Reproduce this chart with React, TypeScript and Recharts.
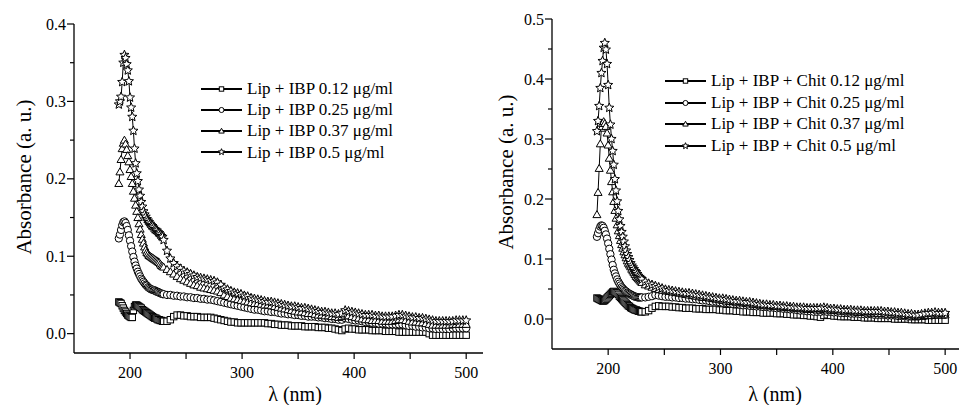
import React from 'react';
import { LineChart, Line, XAxis, YAxis } from 'recharts';

const FONT = "'Liberation Serif', 'DejaVu Serif', 'Times New Roman', Times, serif";

// wavelength grid (nm): 1 nm steps on the peak, 3 nm on the tail
const wavelength = [
  190, 191, 192, 193, 194, 195, 196, 197, 198, 199,
  200, 201, 202, 203, 204, 205, 206, 207, 208, 209,
  210, 211, 212, 213, 214, 215, 216, 217, 218, 219,
  220, 221, 222, 223, 224, 225, 226, 227, 228, 229,
  230,
  233, 236, 239, 242, 245, 248, 251, 254, 257, 260,
  263, 266, 269, 272, 275, 278, 281, 284, 287, 290,
  293, 296, 299, 302, 305, 308, 311, 314, 317, 320,
  323, 326, 329, 332, 335, 338, 341, 344, 347, 350,
  353, 356, 359, 362, 365, 368, 371, 374, 377, 380,
  383, 386, 389, 392, 395, 398, 401, 404, 407, 410,
  413, 416, 419, 422, 425, 428, 431, 434, 437, 440,
  443, 446, 449, 452, 455, 458, 461, 464, 467, 470,
  473, 476, 479, 482, 485, 488, 491, 494, 497, 500,
];

// Lip + IBP
const lipSquare = [
  0.041, 0.040, 0.039, 0.036, 0.033, 0.030, 0.028, 0.026, 0.024, 0.023,
  0.022, 0.021, 0.021, 0.030, 0.035, 0.037, 0.037, 0.036, 0.035, 0.034,
  0.033, 0.031, 0.030, 0.029, 0.028, 0.027, 0.026, 0.025, 0.024, 0.023,
  0.022, 0.021, 0.020, 0.020, 0.019, 0.018, 0.018, 0.017, 0.017, 0.016,
  0.016,
  0.016, 0.018, 0.022, 0.024, 0.024, 0.023, 0.023, 0.022, 0.022, 0.022,
  0.021, 0.021, 0.021, 0.021, 0.020, 0.019, 0.018, 0.017, 0.016, 0.015,
  0.015, 0.014, 0.014, 0.014, 0.014, 0.014, 0.014, 0.014, 0.014, 0.014,
  0.013, 0.013, 0.012, 0.012, 0.011, 0.011, 0.011, 0.010, 0.010, 0.010,
  0.010, 0.009, 0.009, 0.009, 0.009, 0.008, 0.008, 0.008, 0.007, 0.007,
  0.006, 0.005, 0.004, 0.006, 0.007, 0.006, 0.006, 0.005, 0.005, 0.005,
  0.005, 0.004, 0.004, 0.004, 0.004, 0.003, 0.003, 0.003, 0.003, 0.002,
  0.002, 0.002, 0.002, 0.002, 0.002, 0.002, 0.002, 0.002, 0.000, -0.002,
  -0.002, -0.002, -0.002, -0.002, -0.002, -0.002, -0.002, -0.002, -0.002, -0.002,
];
const lipCircle = [
  0.123, 0.128, 0.134, 0.140, 0.144, 0.145, 0.143, 0.139, 0.134, 0.127,
  0.120, 0.113, 0.106, 0.099, 0.093, 0.088, 0.084, 0.080, 0.077, 0.074,
  0.071, 0.069, 0.067, 0.065, 0.063, 0.062, 0.060, 0.059, 0.058, 0.057,
  0.057, 0.056, 0.056, 0.055, 0.054, 0.054, 0.053, 0.052, 0.052, 0.051,
  0.051,
  0.050, 0.050, 0.049, 0.049, 0.048, 0.048, 0.047, 0.047, 0.046, 0.046,
  0.045, 0.045, 0.044, 0.044, 0.043, 0.042, 0.041, 0.040, 0.039, 0.038,
  0.037, 0.036, 0.035, 0.034, 0.033, 0.032, 0.031, 0.031, 0.030, 0.029,
  0.029, 0.028, 0.028, 0.027, 0.026, 0.026, 0.025, 0.025, 0.024, 0.024,
  0.023, 0.023, 0.022, 0.022, 0.022, 0.021, 0.021, 0.020, 0.020, 0.019,
  0.019, 0.018, 0.018, 0.020, 0.019, 0.018, 0.017, 0.017, 0.016, 0.015,
  0.015, 0.014, 0.014, 0.013, 0.013, 0.013, 0.012, 0.012, 0.012, 0.012,
  0.012, 0.011, 0.010, 0.010, 0.009, 0.009, 0.008, 0.008, 0.007, 0.007,
  0.006, 0.006, 0.006, 0.006, 0.006, 0.007, 0.007, 0.007, 0.007, 0.007,
];
const lipTriangle = [
  0.194, 0.209, 0.225, 0.239, 0.246, 0.250, 0.245, 0.238, 0.230, 0.222,
  0.212, 0.203, 0.194, 0.184, 0.175, 0.166, 0.158, 0.150, 0.142, 0.135,
  0.128, 0.122, 0.117, 0.112, 0.108, 0.105, 0.103, 0.101, 0.100, 0.099,
  0.098, 0.097, 0.096, 0.095, 0.094, 0.093, 0.092, 0.090, 0.088, 0.087,
  0.086,
  0.083, 0.080, 0.077, 0.074, 0.071, 0.069, 0.067, 0.065, 0.063, 0.062,
  0.060, 0.059, 0.058, 0.057, 0.056, 0.055, 0.053, 0.050, 0.048, 0.046,
  0.045, 0.044, 0.043, 0.042, 0.041, 0.040, 0.039, 0.039, 0.038, 0.037,
  0.037, 0.036, 0.035, 0.034, 0.033, 0.032, 0.031, 0.030, 0.029, 0.028,
  0.028, 0.027, 0.026, 0.026, 0.025, 0.024, 0.024, 0.023, 0.023, 0.022,
  0.022, 0.021, 0.022, 0.024, 0.023, 0.022, 0.021, 0.020, 0.019, 0.018,
  0.018, 0.017, 0.017, 0.017, 0.016, 0.016, 0.016, 0.016, 0.017, 0.018,
  0.018, 0.017, 0.016, 0.015, 0.015, 0.014, 0.014, 0.013, 0.012, 0.011,
  0.011, 0.011, 0.011, 0.011, 0.011, 0.012, 0.012, 0.012, 0.012, 0.012,
];
const lipStar = [
  0.296, 0.300, 0.306, 0.325, 0.350, 0.360, 0.356, 0.348, 0.340, 0.326,
  0.305, 0.292, 0.280, 0.262, 0.239, 0.220, 0.207, 0.197, 0.186, 0.178,
  0.170, 0.164, 0.158, 0.154, 0.151, 0.148, 0.146, 0.144, 0.142, 0.140,
  0.139, 0.137, 0.135, 0.134, 0.133, 0.131, 0.130, 0.128, 0.126, 0.125,
  0.121,
  0.107, 0.097, 0.091, 0.087, 0.084, 0.081, 0.079, 0.077, 0.075, 0.073,
  0.072, 0.071, 0.070, 0.069, 0.068, 0.066, 0.063, 0.059, 0.057, 0.055,
  0.053, 0.052, 0.051, 0.049, 0.048, 0.046, 0.045, 0.044, 0.043, 0.042,
  0.041, 0.041, 0.040, 0.039, 0.038, 0.037, 0.036, 0.035, 0.035, 0.034,
  0.033, 0.033, 0.032, 0.031, 0.030, 0.029, 0.028, 0.028, 0.027, 0.026,
  0.026, 0.025, 0.026, 0.030, 0.029, 0.028, 0.027, 0.026, 0.025, 0.024,
  0.024, 0.024, 0.023, 0.023, 0.022, 0.022, 0.022, 0.022, 0.023, 0.024,
  0.024, 0.023, 0.022, 0.021, 0.021, 0.020, 0.020, 0.019, 0.018, 0.017,
  0.016, 0.016, 0.016, 0.016, 0.016, 0.016, 0.017, 0.017, 0.017, 0.017,
];

// Lip + IBP + Chit
const chitSquare = [
  0.035, 0.034, 0.033, 0.032, 0.031, 0.030, 0.030, 0.031, 0.033, 0.035,
  0.037, 0.039, 0.041, 0.043, 0.045, 0.046, 0.045, 0.044, 0.043, 0.041,
  0.038, 0.036, 0.034, 0.032, 0.030, 0.028, 0.026, 0.024, 0.022, 0.021,
  0.019, 0.018, 0.017, 0.016, 0.015, 0.015, 0.014, 0.013, 0.013, 0.012,
  0.012,
  0.012, 0.014, 0.018, 0.021, 0.022, 0.021, 0.021, 0.021, 0.020, 0.020,
  0.019, 0.019, 0.018, 0.018, 0.018, 0.017, 0.017, 0.017, 0.016, 0.016,
  0.016, 0.016, 0.015, 0.015, 0.014, 0.014, 0.014, 0.013, 0.013, 0.012,
  0.012, 0.012, 0.011, 0.011, 0.011, 0.010, 0.010, 0.010, 0.010, 0.009,
  0.009, 0.009, 0.008, 0.008, 0.007, 0.007, 0.007, 0.006, 0.006, 0.005,
  0.005, 0.004, 0.003, 0.006, 0.007, 0.006, 0.005, 0.005, 0.004, 0.004,
  0.004, 0.004, 0.003, 0.003, 0.003, 0.002, 0.002, 0.002, 0.002, 0.001,
  0.001, 0.001, 0.001, 0.001, 0.000, 0.000, 0.000, 0.000, 0.000, -0.001,
  -0.001, -0.001, -0.001, -0.001, -0.002, -0.002, -0.002, -0.002, -0.002, -0.002,
];
const chitCircle = [
  0.137, 0.143, 0.149, 0.154, 0.156, 0.155, 0.152, 0.147, 0.141, 0.134,
  0.126, 0.117, 0.108, 0.099, 0.090, 0.082, 0.076, 0.071, 0.066, 0.062,
  0.059, 0.056, 0.053, 0.051, 0.049, 0.047, 0.046, 0.044, 0.043, 0.042,
  0.041, 0.040, 0.039, 0.038, 0.037, 0.037, 0.036, 0.036, 0.036, 0.036,
  0.036,
  0.036, 0.037, 0.038, 0.040, 0.039, 0.038, 0.037, 0.037, 0.036, 0.036,
  0.035, 0.035, 0.034, 0.034, 0.033, 0.033, 0.032, 0.031, 0.031, 0.030,
  0.029, 0.029, 0.028, 0.027, 0.027, 0.026, 0.025, 0.025, 0.024, 0.023,
  0.023, 0.022, 0.022, 0.021, 0.021, 0.020, 0.020, 0.019, 0.019, 0.018,
  0.018, 0.017, 0.017, 0.016, 0.016, 0.015, 0.014, 0.014, 0.013, 0.013,
  0.012, 0.012, 0.012, 0.013, 0.012, 0.012, 0.011, 0.011, 0.010, 0.010,
  0.010, 0.009, 0.009, 0.009, 0.008, 0.008, 0.008, 0.008, 0.007, 0.007,
  0.007, 0.007, 0.006, 0.006, 0.006, 0.005, 0.005, 0.005, 0.004, 0.004,
  0.004, 0.004, 0.005, 0.005, 0.006, 0.006, 0.007, 0.007, 0.007, 0.007,
];
const chitTriangle = [
  0.174, 0.211, 0.251, 0.292, 0.318, 0.326, 0.329, 0.326, 0.321, 0.310,
  0.290, 0.268, 0.248, 0.229, 0.212, 0.196, 0.181, 0.168, 0.157, 0.147,
  0.139, 0.131, 0.124, 0.118, 0.112, 0.107, 0.102, 0.097, 0.093, 0.090,
  0.087, 0.083, 0.080, 0.077, 0.074, 0.071, 0.069, 0.067, 0.065, 0.063,
  0.061,
  0.057, 0.055, 0.053, 0.051, 0.049, 0.048, 0.047, 0.046, 0.045, 0.044,
  0.043, 0.042, 0.041, 0.040, 0.039, 0.038, 0.037, 0.036, 0.036, 0.035,
  0.034, 0.033, 0.032, 0.031, 0.030, 0.029, 0.029, 0.028, 0.027, 0.027,
  0.026, 0.025, 0.025, 0.024, 0.023, 0.023, 0.022, 0.022, 0.021, 0.021,
  0.020, 0.020, 0.019, 0.019, 0.018, 0.018, 0.017, 0.017, 0.016, 0.016,
  0.016, 0.015, 0.015, 0.016, 0.015, 0.015, 0.014, 0.014, 0.013, 0.013,
  0.012, 0.012, 0.012, 0.011, 0.011, 0.011, 0.010, 0.010, 0.010, 0.009,
  0.009, 0.009, 0.008, 0.008, 0.008, 0.007, 0.007, 0.006, 0.006, 0.005,
  0.005, 0.005, 0.005, 0.006, 0.006, 0.006, 0.007, 0.007, 0.007, 0.007,
];
const chitStar = [
  0.313, 0.330, 0.355, 0.385, 0.410, 0.430, 0.452, 0.460, 0.449, 0.425,
  0.390, 0.352, 0.324, 0.300, 0.280, 0.257, 0.233, 0.214, 0.196, 0.180,
  0.166, 0.155, 0.145, 0.137, 0.129, 0.121, 0.114, 0.108, 0.103, 0.098,
  0.093, 0.089, 0.086, 0.083, 0.080, 0.078, 0.075, 0.072, 0.070, 0.068,
  0.066,
  0.062, 0.059, 0.057, 0.055, 0.053, 0.051, 0.049, 0.048, 0.047, 0.046,
  0.045, 0.044, 0.043, 0.043, 0.042, 0.041, 0.040, 0.039, 0.038, 0.037,
  0.036, 0.035, 0.034, 0.034, 0.033, 0.032, 0.031, 0.030, 0.030, 0.029,
  0.028, 0.028, 0.027, 0.026, 0.025, 0.024, 0.024, 0.023, 0.023, 0.022,
  0.022, 0.021, 0.021, 0.020, 0.020, 0.019, 0.019, 0.019, 0.018, 0.018,
  0.018, 0.018, 0.018, 0.019, 0.018, 0.017, 0.017, 0.016, 0.016, 0.015,
  0.015, 0.015, 0.014, 0.014, 0.014, 0.013, 0.013, 0.013, 0.013, 0.013,
  0.013, 0.012, 0.012, 0.011, 0.011, 0.010, 0.010, 0.009, 0.008, 0.008,
  0.007, 0.007, 0.008, 0.009, 0.010, 0.010, 0.011, 0.010, 0.010, 0.010,
];

const lipLabels = [
  'Lip + IBP 0.12 μg/ml',
  'Lip + IBP 0.25 μg/ml',
  'Lip + IBP 0.37 μg/ml',
  'Lip + IBP 0.5 μg/ml',
];
const chitLabels = [
  'Lip + IBP + Chit 0.12 μg/ml',
  'Lip + IBP + Chit 0.25 μg/ml',
  'Lip + IBP + Chit 0.37 μg/ml',
  'Lip + IBP + Chit 0.5 μg/ml',
];

const xTicks = [200, 250, 300, 350, 400, 450, 500];
const lipYTicks = [0, 0.05, 0.1, 0.15, 0.2, 0.25, 0.3, 0.35, 0.4];
const chitYTicks = [0, 0.05, 0.1, 0.15, 0.2, 0.25, 0.3, 0.35, 0.4, 0.45, 0.5];

type Shape = 'square' | 'circle' | 'triangle' | 'star';
const shapes: Shape[] = ['square', 'circle', 'triangle', 'star'];

const Marker = ({ shape, cx, cy, s }: { shape: Shape; cx: number; cy: number; s: number }) => {
  const common = { fill: '#fff', stroke: '#000', strokeWidth: 1 };
  if (shape === 'square') {
    return <rect x={cx - s} y={cy - s} width={2 * s} height={2 * s} {...common} />;
  }
  if (shape === 'circle') {
    return <circle cx={cx} cy={cy} r={s * 1.15} {...common} />;
  }
  if (shape === 'triangle') {
    const r = s * 1.45;
    const pts = [0, 1, 2]
      .map((k) => {
        const a = -Math.PI / 2 + (k * 2 * Math.PI) / 3;
        return `${cx + r * Math.cos(a)},${cy + r * Math.sin(a) + r * 0.15}`;
      })
      .join(' ');
    return <polygon points={pts} {...common} />;
  }
  const R = s * 1.5;
  const pts = Array.from({ length: 10 }, (_, k) => {
    const a = -Math.PI / 2 + (k * Math.PI) / 5;
    const rr = k % 2 === 0 ? R : R * 0.45;
    return `${cx + rr * Math.cos(a)},${cy + rr * Math.sin(a)}`;
  }).join(' ');
  return <polygon points={pts} {...common} />;
};

const isMajor = (v: number) => Math.abs(v * 10 - Math.round(v * 10)) < 1e-6;

const makeYTick = (axisX: number) => (props: any) => {
  const { y, payload } = props;
  const v = payload.value as number;
  const major = isMajor(v);
  return (
    <g>
      <line x1={axisX - (major ? 7 : 4)} x2={axisX} y1={y} y2={y} stroke="#000" strokeWidth={1.2} />
      {major && (
        <text x={axisX - 8} y={y} dy="0.35em" textAnchor="end" fill="#000" style={{ fontFamily: FONT, fontSize: 16 }}>
          {v.toFixed(1)}
        </text>
      )}
    </g>
  );
};

interface PanelProps {
  series: number[][];
  yDomain: [number, number];
  yTicks: number[];
  margin: { top: number; right: number; bottom: number; left: number };
  left: number;
  name: string;
}

const Panel: React.FC<PanelProps> = ({ series, yDomain, yTicks, margin, left, name }) => {
  const data = wavelength.map((w, i) => ({
    w,
    s0: series[0][i],
    s1: series[1][i],
    s2: series[2][i],
    s3: series[3][i],
  }));
  const axisX = margin.left + 60;
  return (
    <div style={{ position: 'absolute', left, top: 0 }}>
      <LineChart width={490} height={405} data={data} margin={margin} style={{ fontFamily: FONT }}>
        <XAxis
          dataKey="w"
          type="number"
          domain={[150, 515]}
          allowDataOverflow
          ticks={xTicks}
          tickFormatter={(v: number) => (v % 100 === 0 ? String(v) : '')}
          height={40}
          tickSize={6}
          tickMargin={8}
          axisLine={{ stroke: '#000', strokeWidth: 1.3 }}
          tickLine={{ stroke: '#000', strokeWidth: 1.2 }}
          tick={{ fontSize: 16, fill: '#000', fontFamily: FONT, style: { fontFamily: FONT } }}
        />
        <YAxis
          type="number"
          domain={yDomain}
          allowDataOverflow
          ticks={yTicks}
          width={60}
          axisLine={{ stroke: '#000', strokeWidth: 1.3 }}
          tickLine={false}
          tick={makeYTick(axisX)}
        />
        {shapes.map((shape, k) => (
          <Line
            key={shape}
            type="linear"
            dataKey={`s${k}`}
            stroke="#000"
            strokeWidth={1}
            isAnimationActive={false}
            activeDot={false}
            dot={(p: any) =>
              p.cx == null || p.cy == null ? (
                <g key={`${name}-${shape}-${p.index}`} />
              ) : (
                <Marker key={`${name}-${shape}-${p.index}`} shape={shape} cx={p.cx} cy={p.cy} s={3.2} />
              )
            }
          />
        ))}
      </LineChart>
    </div>
  );
};

const LegendBox = ({ left, top, labels, rowH }: { left: number; top: number; labels: string[]; rowH: number }) => (
  <div style={{ position: 'absolute', left, top }}>
    {labels.map((label, k) => (
      <div key={label} style={{ display: 'flex', alignItems: 'center', height: rowH }}>
        <svg width={41} height={12} style={{ display: 'block' }}>
          <line x1={0} x2={41} y1={6} y2={6} stroke="#000" strokeWidth={2} />
          <Marker shape={shapes[k]} cx={20.5} cy={6} s={2.2} />
        </svg>
        <span style={{ marginLeft: 5, fontSize: 17, lineHeight: `${rowH}px`, fontFamily: FONT, color: '#000', whiteSpace: 'nowrap' }}>
          {label}
        </span>
      </div>
    ))}
  </div>
);

const Title = ({ text, cx, cy, rotate, size }: { text: string; cx: number; cy: number; rotate?: boolean; size: number }) => (
  <div
    style={{
      position: 'absolute',
      left: cx,
      top: cy,
      transform: `translate(-50%, -50%)${rotate ? ' rotate(-90deg)' : ''}`,
      fontSize: size,
      fontFamily: FONT,
      color: '#000',
      whiteSpace: 'nowrap',
      lineHeight: 1,
    }}
  >
    {text}
  </div>
);

export default function App() {
  return (
    <div
      style={{
        position: 'fixed',
        left: 0,
        top: 0,
        width: 959,
        height: 405,
        overflow: 'hidden',
        background: '#fff',
        fontFamily: FONT,
      }}
    >
      <Panel
        name="lip"
        left={0}
        series={[lipSquare, lipCircle, lipTriangle, lipStar]}
        yDomain={[-0.025, 0.4]}
        yTicks={lipYTicks}
        margin={{ top: 24, right: 7, bottom: 12, left: 14 }}
      />
      <Panel
        name="chit"
        left={479}
        series={[chitSquare, chitCircle, chitTriangle, chitStar]}
        yDomain={[-0.05, 0.5]}
        yTicks={chitYTicks}
        margin={{ top: 19, right: 7, bottom: 16, left: 13 }}
      />
      <LegendBox left={201} top={78} labels={lipLabels} rowH={21.2} />
      <LegendBox left={665} top={70} labels={chitLabels} rowH={21.7} />
      <Title text="Absorbance (a. u.)" cx={24} cy={177} rotate size={21} />
      <Title text="Absorbance (a. u.)" cx={506} cy={172} rotate size={21} />
      <Title text="λ (nm)" cx={295} cy={394} size={20} />
      <Title text="λ (nm)" cx={775} cy={394} size={20} />
    </div>
  );
}
